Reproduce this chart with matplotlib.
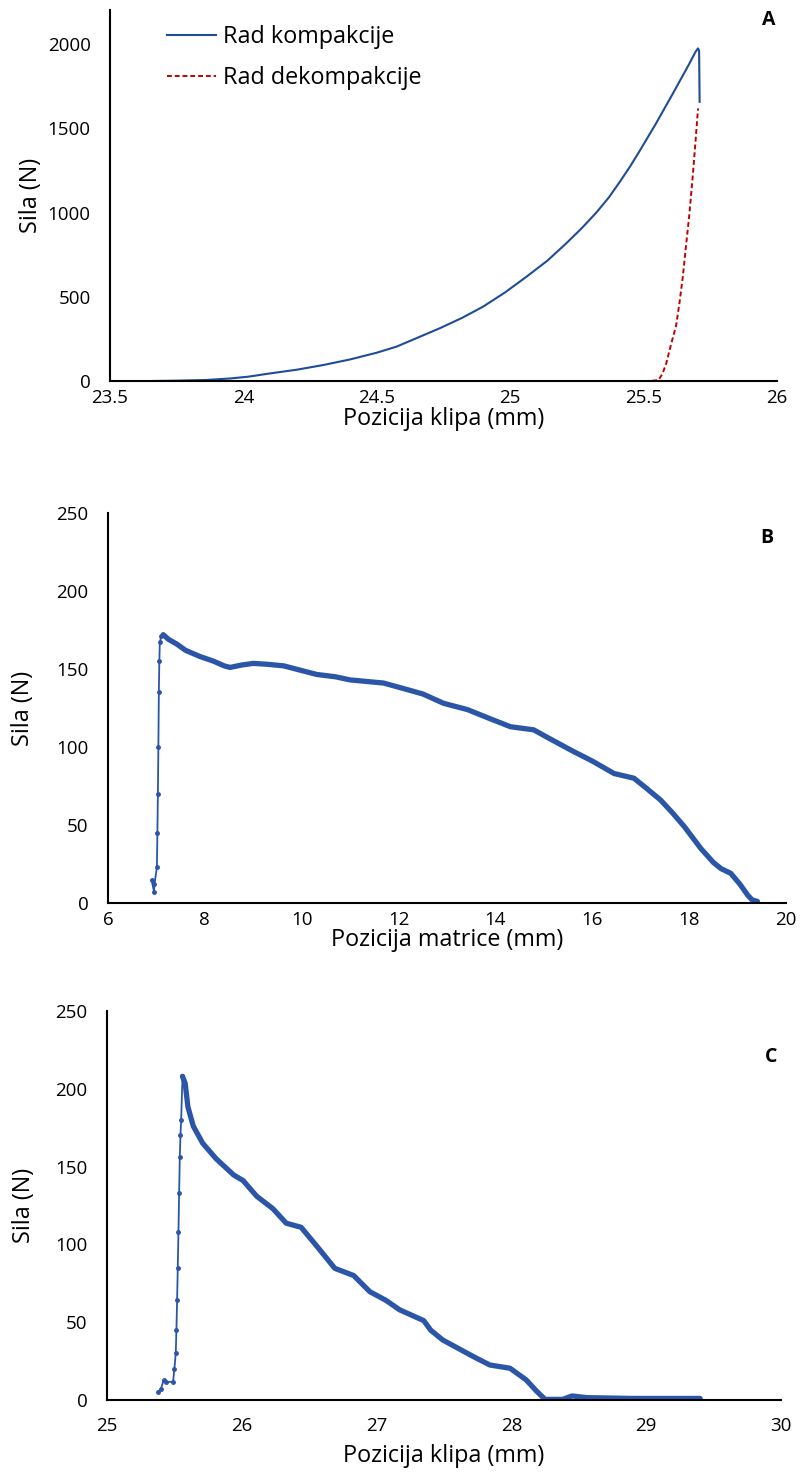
import matplotlib
matplotlib.use("Agg")
import matplotlib.pyplot as plt

plt.rcParams['font.family'] = ['Open Sans', 'DejaVu Sans']

# ---- Panel A data ----
a_comp_x = [23.656, 23.75, 23.86, 23.95, 24.02, 24.1, 24.2, 24.3, 24.4, 24.5, 24.574, 24.65,
            24.736, 24.82, 24.898, 24.98, 25.061, 25.14, 25.21, 25.27, 25.323, 25.37, 25.41,
            25.45, 25.485, 25.547, 25.61, 25.672, 25.695, 25.704, 25.708, 25.710]
a_comp_y = [0, 2, 6, 15, 26, 45, 67, 95, 128, 168, 204, 255,
            313, 375, 441, 525, 619, 715, 817, 910, 1000, 1090, 1180,
            1275, 1365, 1530, 1707, 1885, 1955, 1974, 1960, 1657]
a_dec_x = [25.474, 25.52, 25.555, 25.57, 25.585, 25.60, 25.622, 25.635, 25.647, 25.66,
           25.672, 25.685, 25.695, 25.704]
a_dec_y = [0, 0, 5, 40, 105, 200, 330, 470, 619, 817, 997, 1230, 1430, 1618]

# ---- Panel B data ----
b_rise_x = [6.90, 6.95, 6.96, 7.01, 7.02, 7.03, 7.04, 7.05, 7.06, 7.07, 7.10, 7.14]
b_rise_y = [14.8, 7.3, 12, 23, 45, 70, 100, 135, 155, 167, 171, 172]
b_dec_x = [7.14, 7.25, 7.42, 7.60, 7.90, 8.18, 8.40, 8.52, 8.75, 9.00, 9.30, 9.63, 10.0, 10.31,
           10.7, 11.0, 11.69, 12.04, 12.50, 12.93, 13.42, 13.9, 14.31, 14.79, 15.2, 15.62, 16.0,
           16.45, 16.86, 17.1, 17.41, 17.65, 17.90, 18.24, 18.50, 18.66, 18.86, 19.05, 19.21,
           19.30, 19.41]
b_dec_y = [172, 169, 166, 162, 158, 155, 152, 151, 152.5, 153.6, 153, 152, 149, 146.5,
           145, 143, 141, 138, 134, 128, 124, 118, 113, 111, 104, 97, 91,
           83, 80, 74, 66, 58, 49, 35, 26, 22, 19, 12, 5, 2, 1]

# ---- Panel C data ----
c_rise_x = [25.38, 25.40, 25.42, 25.44, 25.49, 25.50, 25.51, 25.515, 25.52, 25.525, 25.53, 25.535,
            25.54, 25.545, 25.55, 25.56]
c_rise_y = [5.4, 7, 12.9, 11.5, 11.8, 20, 30, 45, 64, 85, 108, 133, 156, 170, 180, 208]
c_dec_x = [25.56, 25.58, 25.60, 25.64, 25.71, 25.81, 25.94, 26.01, 26.11, 26.23, 26.33, 26.44,
           26.56, 26.69, 26.83, 26.95, 27.07, 27.17, 27.35, 27.40, 27.49, 27.72, 27.84, 27.99,
           28.11, 28.19, 28.25, 28.38, 28.45, 28.56, 28.90, 29.40]
c_dec_y = [208, 203.5, 188.5, 176, 165, 155, 144.6, 141, 131, 123, 113.6, 111,
           98.5, 84.6, 80, 69.6, 64, 58, 51, 45, 38.6, 27.8, 22.5, 20.4,
           12.9, 5.4, 0.4, 0.4, 2.6, 1.5, 1, 1]

W, H = 801, 1475
fig = plt.figure(figsize=(W / 100, H / 100), dpi=100)

def make_ax(left, right, top, bottom):
    return fig.add_axes([left / W, (H - bottom) / H, (right - left) / W, (bottom - top) / H])

TICK_FS = 13.5
LAB_FS = 16.8
BLUE_A = '#1F4C97'
BLUE = '#2B56A8'

def style(ax, xpad=6):
    for s in ['top', 'right']:
        ax.spines[s].set_visible(False)
    for s in ['left', 'bottom']:
        ax.spines[s].set_linewidth(1.5)
        ax.spines[s].set_color('black')
    ax.tick_params(length=0, labelsize=TICK_FS)
    ax.tick_params(axis='x', pad=xpad)
    ax.tick_params(axis='y', pad=14)

# Panel A
axA = make_ax(110, 777, 10, 381)
axA.plot(a_comp_x, a_comp_y, color=BLUE_A, lw=1.5, label='Rad kompakcije')
axA.plot(a_dec_x, a_dec_y, color='#C00000', lw=1.4, ls=(0, (2.5, 1.5)), label='Rad dekompakcije')
axA.set_xlim(23.5, 26)
axA.set_ylim(0, 2202)
axA.set_xticks([23.5, 24, 24.5, 25, 25.5, 26])
axA.set_xticklabels(['23.5', '24', '24.5', '25', '25.5', '26'])
axA.set_yticks([0, 500, 1000, 1500, 2000])
style(axA)
axA.set_xlabel('Pozicija klipa (mm)', fontsize=LAB_FS, labelpad=0)
axA.set_ylabel('Sila (N)', fontsize=LAB_FS, labelpad=3)
axA.legend(loc='upper left', bbox_to_anchor=(0.065, 0.998), frameon=False, fontsize=LAB_FS,
           handlelength=2.1, handletextpad=0.3, labelspacing=0.75, borderaxespad=0.2)

# Panel B
axB = make_ax(108, 786, 513, 903)
axB.plot(b_rise_x, b_rise_y, color=BLUE, lw=1.3, marker='o', ms=2.5)
axB.plot(b_dec_x, b_dec_y, color=BLUE, lw=3.8, solid_capstyle='round')
axB.set_xlim(6, 20)
axB.set_ylim(0, 250)
axB.set_xticks([6, 8, 10, 12, 14, 16, 18, 20])
axB.set_yticks([0, 50, 100, 150, 200, 250])
style(axB)
axB.set_xlabel('Pozicija matrice (mm)', fontsize=LAB_FS, labelpad=-1)
axB.set_ylabel('Sila (N)', fontsize=LAB_FS, labelpad=15)

# Panel C
axC = make_ax(107, 781, 1011, 1400)
axC.plot(c_rise_x, c_rise_y, color=BLUE, lw=1.3, marker='o', ms=2.5)
axC.plot(c_dec_x, c_dec_y, color=BLUE, lw=3.8, solid_capstyle='round')
axC.set_xlim(25, 30)
axC.set_ylim(0, 250)
axC.set_xticks([25, 26, 27, 28, 29, 30])
axC.set_yticks([0, 50, 100, 150, 200, 250])
style(axC, xpad=12)
axC.set_xlabel('Pozicija klipa (mm)', fontsize=LAB_FS, labelpad=7)
axC.set_ylabel('Sila (N)', fontsize=LAB_FS, labelpad=14)

fig.text(769 / W, 1 - 20 / H, 'A', fontsize=14, fontweight='bold', ha='center', va='center')
fig.text(767 / W, 1 - 538 / H, 'B', fontsize=14, fontweight='bold', ha='center', va='center')
fig.text(771 / W, 1 - 1057 / H, 'C', fontsize=14, fontweight='bold', ha='center', va='center')

fig.savefig('out.png', dpi=100, facecolor='white')
